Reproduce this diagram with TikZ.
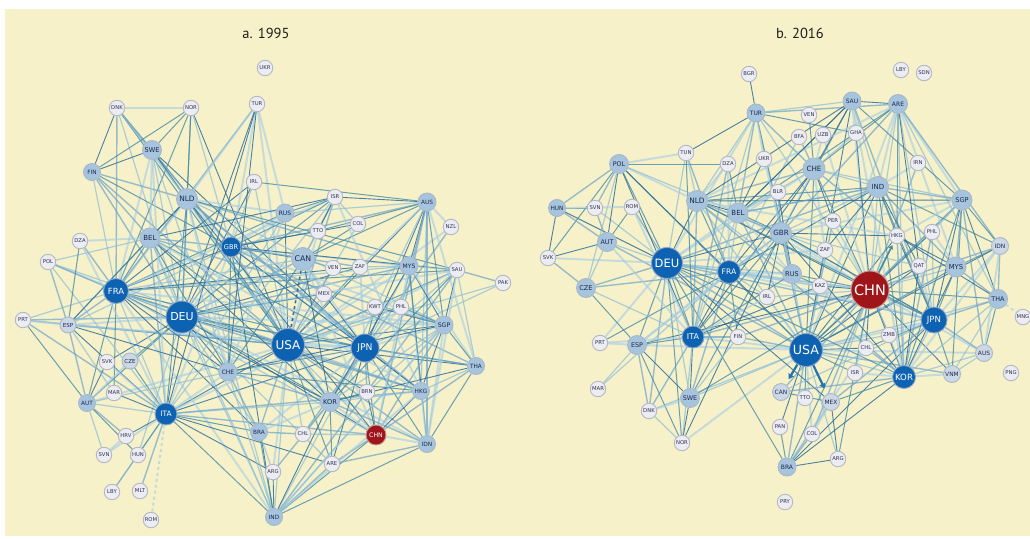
\documentclass[tikz,border=0pt]{standalone}
\usepackage{fontspec}
\newfontfamily\labfont{DejaVu Sans}
\newfontfamily\titlefont{PT Sans}
\usetikzlibrary{arrows.meta}
\pgfdeclarelayer{back}
\pgfdeclarelayer{links}
\pgfsetlayers{back,links,main}

\definecolor{paper}{RGB}{247,241,201}
\definecolor{nodeL}{RGB}{236,236,243}
\definecolor{nodeLM}{RGB}{204,216,229}
\definecolor{nodeM}{RGB}{166,196,222}
\definecolor{nodeD}{RGB}{14,98,178}
\definecolor{nodeR}{RGB}{158,22,26}
\definecolor{ringL}{RGB}{180,183,196}
\definecolor{ringM}{RGB}{168,184,200}
\definecolor{ringD}{RGB}{140,165,200}
\definecolor{ringR}{RGB}{200,150,150}
\definecolor{txtL}{RGB}{50,50,80}
\definecolor{txtM}{RGB}{30,40,75}
\definecolor{titlecol}{RGB}{30,30,30}
\definecolor{lk0}{RGB}{45,110,155}
\definecolor{lk1}{RGB}{110,165,200}
\definecolor{lk2}{RGB}{165,205,228}
\definecolor{lk3}{RGB}{70,140,168}
\definecolor{lk4}{RGB}{140,190,215}
\definecolor{arrowblue}{RGB}{35,115,172}

\tikzset{
  nd/.style={circle, inner sep=0pt, line width=0.9pt},
  nL/.style={nd, fill=nodeL, draw=ringL, minimum size=15.5pt, text=txtL,
    font=\labfont\fontsize{5.3}{5.3}\selectfont},
  nLM/.style={nd, fill=nodeLM, draw=ringM, minimum size=16pt, text=txtM,
    font=\labfont\fontsize{5.5}{5.5}\selectfont},
  nM/.style 2 args={nd, fill=nodeM, draw=ringM, minimum size=#1pt, text=txtM,
    font=\labfont\fontsize{#2}{#2}\selectfont},
  nD/.style 2 args={nd, fill=nodeD, draw=ringD, minimum size=#1pt, text=white,
    font=\labfont\fontsize{#2}{#2}\selectfont},
  nR/.style 2 args={nd, fill=nodeR, draw=ringR, minimum size=#1pt, text=white,
    font=\labfont\fontsize{#2}{#2}\selectfont},
  e0/.style={draw=lk0, line width=0.9pt, opacity=0.85},
  e1/.style={draw=lk1, line width=1.4pt, opacity=0.7},
  e2/.style={draw=lk2, line width=2.0pt, opacity=0.6},
  e3/.style={draw=lk3, line width=1.0pt, opacity=0.8},
  e4/.style={draw=lk4, line width=1.2pt, opacity=0.7},
  title/.style={font=\titlefont\fontsize{14.5}{14.5}\selectfont, text=titlecol},
  flow/.style={draw=arrowblue, line width=2.2pt, -{Triangle[length=5pt,width=6pt]}, shorten >=6pt},
}

% links from one country to a list of partners, with a varied stroke
\newcount\linkseed
\newcommand\netlinks[3]{%
  \global\advance\linkseed by 3\relax
  \foreach \tgt [count=\k] in {#3}{%
    \pgfmathtruncatemacro\estyle{mod(\k*7+\the\linkseed,5)}%
    \draw[e\estyle] (#1#2) -- (#1\tgt);}}

\begin{document}
\begin{tikzpicture}[x=1pt, y=-1pt]
\useasboundingbox (0,0) rectangle (1030,538);
\clip (0,0) rectangle (1030,538);

\begin{pgfonlayer}{back}
  \fill[white] (0,0) rectangle (1030,538);
  \fill[paper] (5,9) rectangle (1030,536);
\end{pgfonlayer}

\node[title] (ta) at (266,33) {a. 1995};
\node[title] (tb) at (800,33) {b. 2016};

% ---------------- panel a: 1995 ----------------
\foreach \n/\x/\y in {UKR/265/68, DNK/117/108, NOR/191/108, TUR/257/104,
  IRL/254/182, ISR/335/197, NZL/451/227, TTO/318/231, COL/358/224,
  DZA/80/241, POL/48/262, VEN/333/268, ZAF/360/267, SAU/457/270,
  PAK/503/283, MEX/324/294, KWT/375/307, PHL/401/307, PRT/23/320,
  SVK/107/362, MAR/114/393, BRN/367/392, HRV/126/436, CHL/303/434,
  SVN/104/455, HUN/138/455, ARG/273/472, ARE/332/464, LBY/112/492,
  MLT/140/491, ROM/151/520}
  \node[nL] (a\n) at (\x,\y) {\n};
\foreach \n/\x/\y in {ESP/68/325, CZE/130/361}
  \node[nLM] (a\n) at (\x,\y) {\n};
\foreach \n/\x/\y/\d/\f in {SWE/152/150/19/6.6, FIN/92/172/17/5.8,
  NLD/187/199/21/7.4, AUS/427/202/18/5.8, RUS/285/213/18/6,
  BEL/150/238/20/7, CAN/303/259/23/7.8, MYS/409/266/18/6,
  SGP/444/325/18/6.2, CHE/228/372/18/6, THA/476/366/17/5.8,
  AUT/87/403/17/5.8, KOR/330/402/19/6.6, HKG/421/391/17/5.8,
  BRA/259/432/17/5.8, IDN/427/444/17/5.8, IND/274/517/17/5.8}
  \node[nM={\d}{\f}] (a\n) at (\x,\y) {\n};
\node[nD={20}{6.6}] (aGBR) at (231,247) {GBR};
\node[nD={25}{8.5}] (aFRA) at (116,291) {FRA};
\node[nD={32}{11}] (aDEU) at (182,317) {DEU};
\node[nD={33}{12}] (aUSA) at (288,345) {USA};
\node[nD={28}{9.2}] (aJPN) at (365,348) {JPN};
\node[nD={22}{7.4}] (aITA) at (166,414) {ITA};
\node[nR={20}{6.2}] (aCHN) at (376,435) {CHN};

\begin{pgfonlayer}{links}
\netlinks{a}{USA}{DEU,JPN,MEX,GBR,FRA,ITA,KOR,CHN,NLD,BEL,SGP,MYS,HKG,BRA,CHE,AUS,SWE,IRL,ISR,ESP,THA,TUR,IND,PHL,SAU,VEN,ARG,CHL,IDN,ZAF,RUS,TTO,COL,FIN,DNK,NOR,AUT,PAK,KWT,ARE,BRN,NZL,POL,PRT}
\netlinks{a}{DEU}{FRA,ITA,NLD,BEL,GBR,AUT,CHE,ESP,SWE,JPN,CZE,SVK,POL,DNK,FIN,NOR,TUR,RUS,HUN,PRT,KOR,CHN,SGP,BRA,MYS,ISR,ZAF,SAU,IND,HKG,THA,IRL,IDN,ARE,CAN,MEX}
\netlinks{a}{JPN}{KOR,CHN,HKG,SGP,MYS,THA,IDN,AUS,PHL,GBR,NLD,FRA,ITA,CAN,SAU,BRN,KWT,ARE,BRA,IND,NZL,CHE,MEX,ZAF,PAK,CHL,BEL,SWE,ESP}
\netlinks{a}{FRA}{ITA,ESP,BEL,GBR,NLD,PRT,DZA,MAR,CHE,SWE,CAN,POL,AUT,KOR,SGP,CHN,TUR,RUS,BRA,IND,MYS,HKG,SAU,ZAF,ISR,FIN,DNK,NOR,IRL}
\netlinks{a}{GBR}{NLD,IRL,BEL,SWE,CAN,ITA,ESP,AUS,CHE,HKG,SGP,MYS,ZAF,ISR,IND,RUS,NOR,DNK,FIN,SAU,TUR,KOR,THA,TTO,COL}
\netlinks{a}{ITA}{ESP,CHE,AUT,BEL,NLD,HRV,SVN,HUN,MLT,LBY,TUR,SWE,KOR,CHN,BRA,ARG,SAU,ISR,PRT,CZE,MAR,DZA,RUS,HKG,IND,ARE,SVK,POL}
\netlinks{a}{NLD}{BEL,SWE,TUR,DNK,FIN,NOR,ESP,CHE,SGP,MYS,KOR,CHN,RUS,IND,HKG,SAU}
\netlinks{a}{SWE}{DNK,NOR,FIN,BEL,CHE}
\netlinks{a}{CAN}{MEX,ISR,AUS,KOR,CHN,TTO,VEN,COL}
\netlinks{a}{AUS}{NZL,KOR,CHN,SGP,MYS,THA,HKG,IDN,TTO,ISR,ZAF,RUS,PHL,IRL}
\netlinks{a}{MYS}{SGP,THA,SAU,HKG,IDN,KOR,CHN,ZAF}
\netlinks{a}{SGP}{THA,HKG,IDN,KOR,CHN,PHL,KWT,IND,BRN}
\netlinks{a}{SAU}{PAK,KOR,SGP,IDN,THA,IND}
\netlinks{a}{THA}{HKG,CHN,IDN,KOR}
\netlinks{a}{KOR}{CHN,HKG,IDN,ARE,IND,BRA,CHL,ARG,BRN}
\netlinks{a}{CHN}{HKG,IDN,CHL,ARE,IND,BRN}
\netlinks{a}{BEL}{ESP,ISR,DZA,POL,FIN,CHE,KOR,HKG,IND,SGP}
\netlinks{a}{CHE}{KOR,HKG,SGP,RUS,IND,BRA,CAN,ESP}
\netlinks{a}{AUT}{SVN,HRV,HUN,SVK,CZE,CHE,ESP,PRT}
\netlinks{a}{ESP}{PRT,MAR,POL,DZA}
\netlinks{a}{TUR}{CHE,RUS}
\netlinks{a}{ISR}{RUS,TTO,HKG,COL}
\netlinks{a}{IND}{ARE,BRA,ARG,HKG,SGP}
\netlinks{a}{BRA}{ARG,CHL}
\netlinks{a}{HKG}{IDN}
\netlinks{a}{DNK}{FIN,NOR}
\netlinks{a}{NOR}{FIN}
\netlinks{a}{IDN}{ARE,IND}
\netlinks{a}{HUN}{LBY}
\netlinks{a}{HRV}{SVN}
\draw[e2, dashed] (aITA) -- (aROM);
\draw[draw=lk0, line width=1.6pt, dashed] (aCAN) -- (aUSA);
\end{pgfonlayer}

% ---------------- panel b: 2016 ----------------
\foreach \n/\x/\y in {BGR/749/74, LBY/901/70, SDN/924/73, VEN/809/115,
  BFA/799/137, UZB/823/135, GHA/856/133, TUN/686/153, DZA/728/164,
  UKR/764/159, IRN/918/163, BLR/778/192, SVN/595/208, ROM/632/207,
  PER/833/221, HKG/897/236, PHL/932/232, ZAF/825/250, QAT/919/266,
  SVK/548/258, KAZ/820/286, MNG/1023/317, IRL/767/297, ZMB/889/335,
  FIN/738/337, CHL/866/348, PRT/600/343, ISR/855/373, PNG/1011/373,
  MAR/598/389, TTO/805/398, DNK/649/411, PAN/780/427, COL/812/434,
  ARG/838/459, NOR/682/443, PRY/785/502}
  \node[nL] (b\n) at (\x,\y) {\n};
\foreach \n/\x/\y in {IDN/1000/246, AUS/984/353, VNM/952/374,
  CAN/781/392, MEX/831/402}
  \node[nLM, minimum size=17pt, font=\labfont\fontsize{5.9}{6}\selectfont] (b\n) at (\x,\y) {\n};
\foreach \n/\x/\y/\d/\f in {TUR/756/113/18/6, SAU/852/101/18/6,
  ARE/898/104/19/6, POL/619/164/19/6.4, CHE/814/169/22/7.2,
  IND/878/187/21/7, SGP/962/200/20/6.6, HUN/557/208/17/5.8,
  NLD/697/201/21/7.4, BEL/738/213/20/7, GBR/781/233/21/7.2,
  AUT/607/242/19/6.4, MYS/956/267/20/6.8, RUS/792/274/19/6.6,
  THA/998/299/19/6.4, CZE/586/288/19/6.6, ESP/637/345/19/6.4,
  SWE/690/398/19/6.4, BRA/787/467/18/6}
  \node[nM={\d}{\f}] (b\n) at (\x,\y) {\n};
\node[nD={31}{11.5}] (bDEU) at (667,263) {DEU};
\node[nD={23}{7.6}] (bFRA) at (729,272) {FRA};
\node[nD={26}{8.6}] (bJPN) at (934,320) {JPN};
\node[nD={22}{8}] (bITA) at (693,337) {ITA};
\node[nD={33}{12.6}] (bUSA) at (806,350) {USA};
\node[nD={23}{8.6}] (bKOR) at (904,377) {KOR};
\node[nR={38}{14.5}] (bCHN) at (870,290) {CHN};

\begin{pgfonlayer}{links}
\netlinks{b}{USA}{CHN,JPN,KOR,DEU,GBR,FRA,ITA,NLD,BEL,CHE,IND,IRL,RUS,BRA,ISR,CHL,COL,ARG,SGP,MYS,HKG,AUS,THA,VNM,PHL,IDN,ESP,SWE,FIN,ZAF,SAU,ARE,TUR,PER,TTO,PAN,NOR,DNK,AUT,POL,QAT,KAZ,ZMB}
\netlinks{b}{CHN}{JPN,KOR,DEU,MYS,SGP,THA,VNM,AUS,IND,IDN,PHL,QAT,SAU,ARE,IRN,BRA,CHL,PER,ZAF,ZMB,RUS,KAZ,GBR,FRA,ITA,CHE,NLD,ISR,MEX,CAN,ARG,GHA,UZB,TUR,FIN,SWE,ESP,BEL,IRL,COL}
\netlinks{b}{DEU}{FRA,ITA,NLD,BEL,AUT,CZE,POL,HUN,SVK,SVN,ROM,ESP,GBR,CHE,SWE,DNK,NOR,FIN,TUR,RUS,JPN,KOR,IRL,PRT,TUN,IND,BRA,MEX,ZAF,KAZ}
\netlinks{b}{JPN}{KOR,THA,MYS,SGP,IDN,PHL,AUS,VNM,HKG,QAT,ARE,SAU,IND,GBR,FRA,CAN,MEX,CHL,BRA,ZMB}
\netlinks{b}{KOR}{VNM,AUS,HKG,SGP,MYS,IDN,THA,PHL,IND,QAT,SAU,ARE,CHL,MEX,BRA,ISR,ZMB,CAN}
\netlinks{b}{FRA}{ITA,ESP,BEL,GBR,NLD,CHE,DZA,MAR,TUN,PRT,POL,RUS,IRL,SWE,FIN,IND,KAZ,BFA,CZE}
\netlinks{b}{ITA}{ESP,CHE,AUT,BEL,NLD,GBR,POL,ROM,TUR,DZA,TUN,SWE,PRT,CZE,FIN,RUS,KAZ,IRL,NOR,DNK}
\netlinks{b}{GBR}{NLD,BEL,IRL,CHE,IND,RUS,SWE,NOR,ESP,ZAF,ARE,SAU,HKG,SGP,QAT,BLR,JPN,KOR}
\netlinks{b}{CHE}{IND,HKG,ARE,SAU,UZB,GHA,BFA,VEN,PER,ZAF,SGP,TUR}
\netlinks{b}{IND}{ARE,SAU,SGP,HKG,QAT,IRN,BEL,MYS,IDN,ZAF}
\netlinks{b}{ARE}{SAU,SGP,THA,IDN,HKG,QAT,MYS}
\netlinks{b}{SAU}{SGP,BEL}
\netlinks{b}{SGP}{MYS,IDN,THA,HKG,PHL,AUS,VNM}
\netlinks{b}{TUR}{NLD,BEL,RUS,BGR,UKR,SAU,ARE,GHA,TUN}
\netlinks{b}{POL}{NLD,CZE,HUN,SVK,AUT,TUN,BEL,SVN,DZA}
\netlinks{b}{NLD}{BEL,DZA,TUN,CHE,IND,SGP,HKG,RUS,KOR,JPN,SAU,ARE}
\netlinks{b}{BEL}{DZA,UKR,BLR,CHE,IND,ARE,SAU,RUS}
\netlinks{b}{HUN}{AUT,SVN,SVK,ROM}
\netlinks{b}{CZE}{AUT,SVK,ESP}
\netlinks{b}{ESP}{PRT,MAR,DNK,NOR,SWE}
\netlinks{b}{SWE}{NOR,DNK,FIN}
\netlinks{b}{RUS}{KAZ,BLR,UKR}
\netlinks{b}{MYS}{THA,IDN,HKG,PHL}
\netlinks{b}{THA}{VNM,IDN,AUS,HKG}
\netlinks{b}{AUS}{IDN,VNM}
\netlinks{b}{BRA}{ARG,CHL,MEX,COL,PAN}
\netlinks{b}{MEX}{CAN,ARG,COL}
\netlinks{b}{AUT}{SVN,ROM,SVK}
\netlinks{b}{NOR}{DNK}
\draw[e2, dashed] (bTHA) -- (bMNG);
\end{pgfonlayer}
\draw[flow] (bUSA) -- (bCAN);
\draw[flow] (bUSA) -- (bMEX);
\draw[draw=lk3, line width=1.6pt, -{Triangle[length=4pt,width=5pt]}, shorten >=2pt] (bCHN) -- (bHKG);

\end{tikzpicture}
\end{document}
